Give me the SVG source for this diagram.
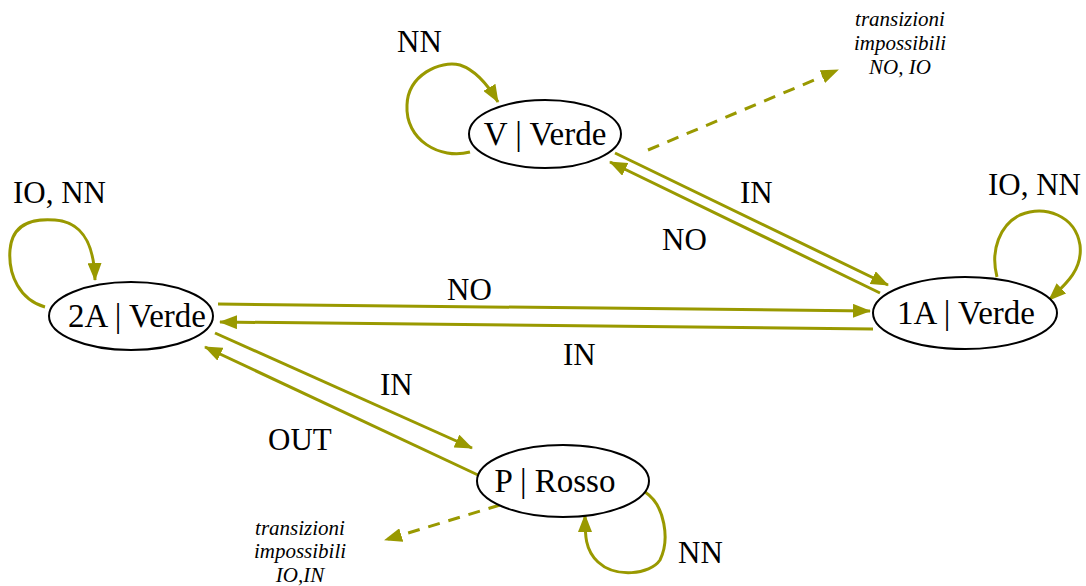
<svg xmlns="http://www.w3.org/2000/svg" width="1086" height="586" viewBox="0 0 1086 586">
<style>
.node{fill:#fff;stroke:#000;stroke-width:2}
.nl{font-family:"Liberation Serif","Times New Roman",serif;font-size:33px;fill:#000;text-anchor:middle}
.el{font-family:"Liberation Serif","Times New Roman",serif;font-size:31px;fill:#000}
.note{font-family:"Liberation Serif","Times New Roman",serif;font-size:21px;font-style:italic;fill:#000;text-anchor:middle}
.e{fill:none;stroke:#999900;stroke-width:3}
.d{fill:none;stroke:#999900;stroke-width:3;stroke-dasharray:12 9}
</style>
<defs>
<marker id="ah" markerUnits="userSpaceOnUse" markerWidth="18" markerHeight="14" refX="17" refY="7" orient="auto">
<path d="M0,0 L18,7 L0,14 z" fill="#999900"/>
</marker>
</defs>
<g id="connectors">
<path class="e" marker-end="url(#ah)" d="M470,152 C440,160 405,140 407,105 C408,75 440,60 460,65 C475,70 488,85 498,102"/>
<path class="e" marker-end="url(#ah)" d="M45,307 C20,300 8,275 10,250 C12,225 30,218 55,220 C80,222 94,240 95,280"/>
<path class="e" marker-end="url(#ah)" d="M997,277 C990,250 1000,225 1020,215 C1045,205 1075,215 1080,245 C1083,270 1065,285 1049,300"/>
<path class="e" marker-end="url(#ah)" d="M645,492 C665,505 670,540 660,560 C650,575 615,578 598,562 C585,550 585,535 585,515"/>
<line class="e" marker-end="url(#ah)" x1="615" y1="153" x2="888" y2="285"/>
<line class="e" marker-end="url(#ah)" x1="880" y1="293" x2="610" y2="162"/>
<line class="e" marker-end="url(#ah)" x1="218" y1="304" x2="870" y2="311"/>
<line class="e" marker-end="url(#ah)" x1="873" y1="329" x2="220" y2="322"/>
<line class="e" marker-end="url(#ah)" x1="215" y1="333" x2="472" y2="448"/>
<line class="e" marker-end="url(#ah)" x1="478" y1="475" x2="205" y2="347"/>
<line class="d" marker-end="url(#ah)" x1="648" y1="150" x2="838" y2="70"/>
<line class="d" marker-end="url(#ah)" x1="500" y1="505" x2="385" y2="540"/>
<text class="el" x="397" y="52">NN</text>
<text class="el" x="13" y="203">IO, NN</text>
<text class="el" x="988" y="195">IO, NN</text>
<text class="el" x="678" y="563">NN</text>
<text class="el" x="740" y="203">IN</text>
<text class="el" x="662" y="250">NO</text>
<text class="el" x="447" y="300">NO</text>
<text class="el" x="563" y="365">IN</text>
<text class="el" x="380" y="395">IN</text>
<text class="el" x="268" y="450">OUT</text>
</g>
<g id="node-V">
<ellipse class="node" cx="545" cy="134" rx="76" ry="34"/>
<text class="nl" x="545" y="145">V | Verde</text>
</g>
<g id="node-2A">
<ellipse class="node" cx="131" cy="316" rx="82" ry="34"/>
<text class="nl" x="137" y="327">2A | Verde</text>
</g>
<g id="node-1A">
<ellipse class="node" cx="965" cy="313" rx="92" ry="36"/>
<text class="nl" x="966" y="324">1A | Verde</text>
</g>
<g id="node-P">
<ellipse class="node" cx="563" cy="481" rx="86" ry="36"/>
<text class="nl" x="555" y="492">P | Rosso</text>
</g>
<g id="note-top">
<text class="note" x="900" y="26">transizioni</text>
<text class="note" x="900" y="50">impossibili</text>
<text class="note" x="900" y="74">NO, IO</text>
</g>
<g id="note-bottom">
<text class="note" x="300" y="535">transizioni</text>
<text class="note" x="300" y="558">impossibili</text>
<text class="note" x="300" y="582">IO,IN</text>
</g>
</svg>
